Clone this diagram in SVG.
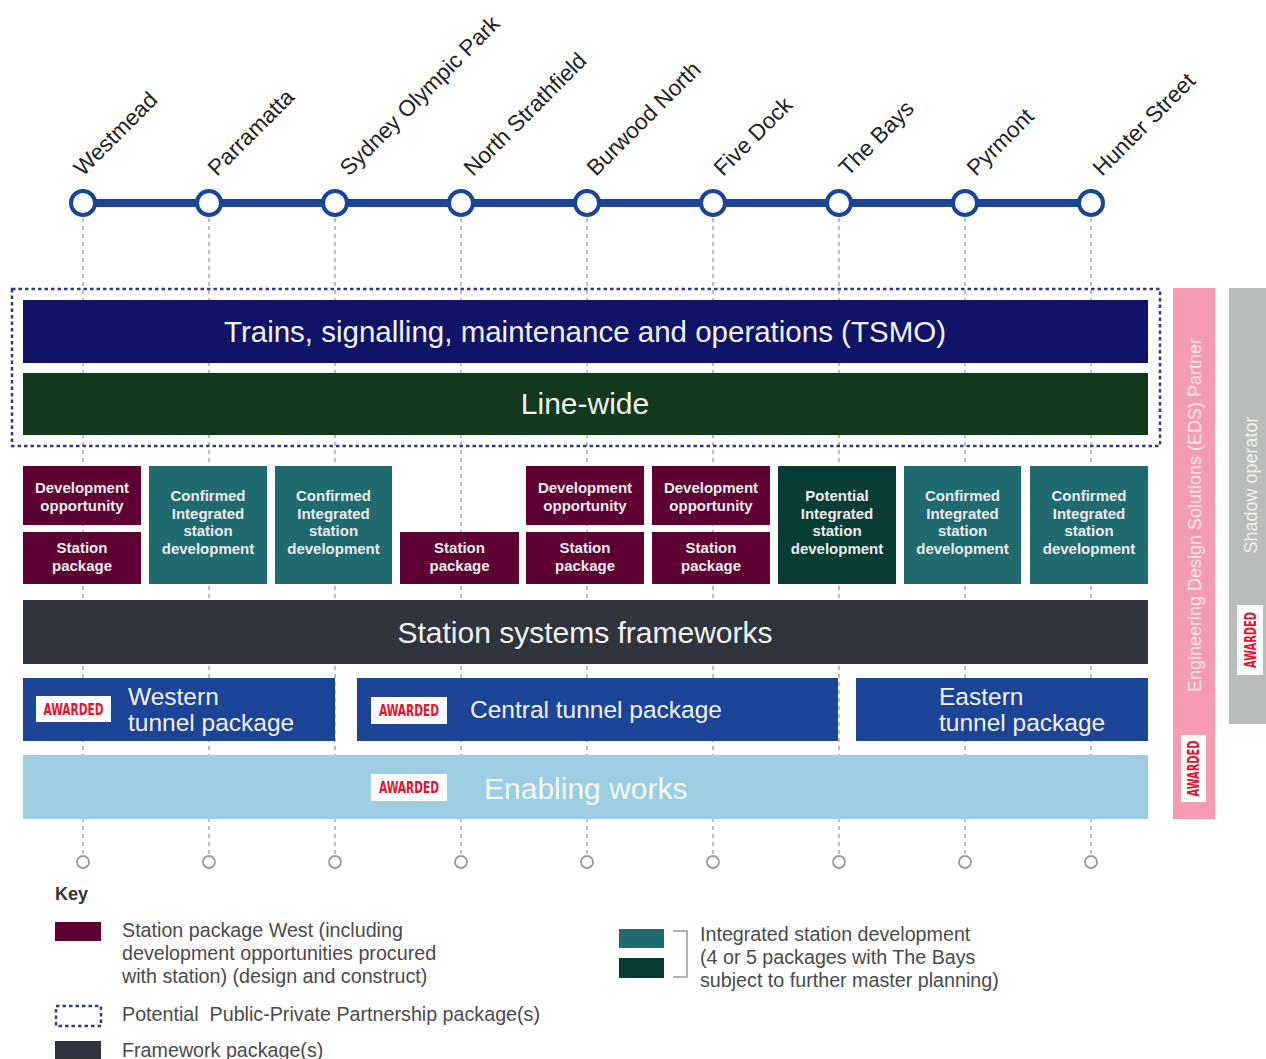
<svg xmlns="http://www.w3.org/2000/svg" width="1266" height="1059" viewBox="0 0 1266 1059">
<defs>
<style>
.stn{font-family:"Liberation Sans",Arial,sans-serif;font-size:22.5px;fill:#222}
.bar{font-family:"Liberation Sans",Arial,sans-serif;fill:#f2f2f2;text-anchor:middle}
.blk{font-family:"Liberation Sans",Arial,sans-serif;font-size:15px;font-weight:bold;fill:#ececec;text-anchor:middle}
.tun{font-family:"Liberation Sans",Arial,sans-serif;font-size:24.5px;fill:#f2f2f2}
.key{font-family:"Liberation Sans",Arial,sans-serif;font-size:19.7px;fill:#4a4a4a}
.awd{font-family:"DejaVu Sans Condensed","Liberation Sans Narrow","DejaVu Sans",sans-serif;font-weight:bold;font-size:15px;fill:#e8112d;text-anchor:middle}
.side{font-family:"Liberation Sans",Arial,sans-serif;font-size:18px;text-anchor:middle}
.maroon{fill:#5e0032}
.teal{fill:#1f6b70}
.dteal{fill:#083c34}
.guide{stroke:#a8a8a8;stroke-width:1.5;stroke-dasharray:4 4;fill:none}
.end{fill:#fff;stroke:#9a9a9a;stroke-width:1.8}
.stop{fill:#fff;stroke:#1a4597;stroke-width:4}
.badge{fill:#fff}
</style>
</defs>

<!-- connectors: route line and station guides -->
<g id="connectors">
  <g class="guide">
    <line x1="83" y1="218" x2="83" y2="855"/>
    <line x1="209" y1="218" x2="209" y2="855"/>
    <line x1="335" y1="218" x2="335" y2="855"/>
    <line x1="461" y1="218" x2="461" y2="855"/>
    <line x1="587" y1="218" x2="587" y2="855"/>
    <line x1="713" y1="218" x2="713" y2="855"/>
    <line x1="839" y1="218" x2="839" y2="855"/>
    <line x1="965" y1="218" x2="965" y2="855"/>
    <line x1="1091" y1="218" x2="1091" y2="855"/>
  </g>
  <line x1="83" y1="203" x2="1091" y2="203" stroke="#1a4597" stroke-width="8"/>
  <g>
    <circle class="end" cx="83" cy="862" r="6"/>
    <circle class="end" cx="209" cy="862" r="6"/>
    <circle class="end" cx="335" cy="862" r="6"/>
    <circle class="end" cx="461" cy="862" r="6"/>
    <circle class="end" cx="587" cy="862" r="6"/>
    <circle class="end" cx="713" cy="862" r="6"/>
    <circle class="end" cx="839" cy="862" r="6"/>
    <circle class="end" cx="965" cy="862" r="6"/>
    <circle class="end" cx="1091" cy="862" r="6"/>
  </g>
</g>

<!-- stations -->
<g id="st-westmead"><circle class="stop" cx="83" cy="203" r="12"/><text class="stn" transform="translate(83,177) rotate(-45)">Westmead</text></g>
<g id="st-parramatta"><circle class="stop" cx="209" cy="203" r="12"/><text class="stn" transform="translate(217,177) rotate(-45)">Parramatta</text></g>
<g id="st-sop"><circle class="stop" cx="335" cy="203" r="12"/><text class="stn" transform="translate(349,177) rotate(-45)">Sydney Olympic Park</text></g>
<g id="st-northstrathfield"><circle class="stop" cx="461" cy="203" r="12"/><text class="stn" transform="translate(473,177) rotate(-45)">North Strathfield</text></g>
<g id="st-burwoodnorth"><circle class="stop" cx="587" cy="203" r="12"/><text class="stn" transform="translate(596,177) rotate(-45)">Burwood North</text></g>
<g id="st-fivedock"><circle class="stop" cx="713" cy="203" r="12"/><text class="stn" transform="translate(723,177) rotate(-45)">Five Dock</text></g>
<g id="st-thebays"><circle class="stop" cx="839" cy="203" r="12"/><text class="stn" transform="translate(848,177) rotate(-45)">The Bays</text></g>
<g id="st-pyrmont"><circle class="stop" cx="965" cy="203" r="12"/><text class="stn" transform="translate(976,177) rotate(-45)">Pyrmont</text></g>
<g id="st-hunterstreet"><circle class="stop" cx="1091" cy="203" r="12"/><text class="stn" transform="translate(1102,177) rotate(-45)">Hunter Street</text></g>

<!-- PPP dotted outline -->
<g id="ppp"><rect x="12" y="289" width="1148" height="157" fill="none" stroke="#2f3a8f" stroke-width="2.5" stroke-dasharray="3.5 3"/></g>

<g id="tsmo"><rect x="23" y="300" width="1125" height="63" fill="#0f1466"/><text class="bar" x="585" y="342" font-size="29.5">Trains, signalling, maintenance and operations (TSMO)</text></g>
<g id="linewide"><rect x="23" y="373" width="1125" height="62" fill="#12391b"/><text class="bar" x="585" y="414" font-size="30">Line-wide</text></g>

<!-- station blocks -->
<g id="westmead-dev"><rect class="maroon" x="23" y="466" width="118" height="59"/><text class="blk" x="82" y="493">Development</text><text class="blk" x="82" y="511">opportunity</text></g>
<g id="westmead-stn"><rect class="maroon" x="23" y="532" width="118" height="52"/><text class="blk" x="82" y="553">Station</text><text class="blk" x="82" y="571">package</text></g>
<g id="parramatta-isd"><rect class="teal" x="149" y="466" width="118" height="118"/><text class="blk" x="208" y="501">Confirmed</text><text class="blk" x="208" y="519">Integrated</text><text class="blk" x="208" y="536">station</text><text class="blk" x="208" y="554">development</text></g>
<g id="sop-isd"><rect class="teal" x="275" y="466" width="117" height="118"/><text class="blk" x="333.5" y="501">Confirmed</text><text class="blk" x="333.5" y="519">Integrated</text><text class="blk" x="333.5" y="536">station</text><text class="blk" x="333.5" y="554">development</text></g>
<g id="northstrathfield-stn"><rect class="maroon" x="400" y="532" width="119" height="52"/><text class="blk" x="459.5" y="553">Station</text><text class="blk" x="459.5" y="571">package</text></g>
<g id="burwood-dev"><rect class="maroon" x="526" y="466" width="118" height="59"/><text class="blk" x="585" y="493">Development</text><text class="blk" x="585" y="511">opportunity</text></g>
<g id="burwood-stn"><rect class="maroon" x="526" y="532" width="118" height="52"/><text class="blk" x="585" y="553">Station</text><text class="blk" x="585" y="571">package</text></g>
<g id="fivedock-dev"><rect class="maroon" x="652" y="466" width="118" height="59"/><text class="blk" x="711" y="493">Development</text><text class="blk" x="711" y="511">opportunity</text></g>
<g id="fivedock-stn"><rect class="maroon" x="652" y="532" width="118" height="52"/><text class="blk" x="711" y="553">Station</text><text class="blk" x="711" y="571">package</text></g>
<g id="thebays-isd"><rect class="dteal" x="778" y="466" width="118" height="118"/><text class="blk" x="837" y="501">Potential</text><text class="blk" x="837" y="519">Integrated</text><text class="blk" x="837" y="536">station</text><text class="blk" x="837" y="554">development</text></g>
<g id="pyrmont-isd"><rect class="teal" x="904" y="466" width="117" height="118"/><text class="blk" x="962.5" y="501">Confirmed</text><text class="blk" x="962.5" y="519">Integrated</text><text class="blk" x="962.5" y="536">station</text><text class="blk" x="962.5" y="554">development</text></g>
<g id="hunter-isd"><rect class="teal" x="1030" y="466" width="118" height="118"/><text class="blk" x="1089" y="501">Confirmed</text><text class="blk" x="1089" y="519">Integrated</text><text class="blk" x="1089" y="536">station</text><text class="blk" x="1089" y="554">development</text></g>

<g id="ssf"><rect x="23" y="600" width="1125" height="64" fill="#2f343d"/><text class="bar" x="585" y="643" font-size="30">Station systems frameworks</text></g>

<g id="western"><rect x="23" y="678" width="312" height="63" fill="#1c4497"/><rect class="badge" x="36" y="696" width="75" height="26"/><text class="awd" x="73.5" y="715" textLength="60" lengthAdjust="spacingAndGlyphs">AWARDED</text><text class="tun" x="128" y="705">Western</text><text class="tun" x="128" y="731">tunnel package</text></g>
<g id="central"><rect x="357" y="678" width="481" height="63" fill="#1c4497"/><rect class="badge" x="371" y="697" width="76" height="27"/><text class="awd" x="409" y="716" textLength="60" lengthAdjust="spacingAndGlyphs">AWARDED</text><text class="tun" x="470" y="718" font-size="25">Central tunnel package</text></g>
<g id="eastern"><rect x="856" y="678" width="292" height="63" fill="#1c4497"/><text class="tun" x="939" y="705">Eastern</text><text class="tun" x="939" y="731">tunnel package</text></g>
<g id="enabling"><rect x="23" y="755" width="1125" height="64" fill="#9ccde3"/><rect class="badge" x="371" y="774" width="76" height="27"/><text class="awd" x="409" y="793" textLength="60" lengthAdjust="spacingAndGlyphs">AWARDED</text><text x="484" y="799" font-family="Liberation Sans, Arial, sans-serif" font-size="30" fill="#f4f9fb">Enabling works</text></g>

<g id="eds"><rect x="1173" y="288" width="42" height="531" fill="#f59bb4"/><text class="side" fill="#fde6ee" font-size="18.5" transform="translate(1201,515) rotate(-90)">Engineering Design Solutions (EDS) Partner</text><rect class="badge" x="1181" y="735" width="25" height="67"/><text class="awd" transform="translate(1199,768.5) rotate(-90)" textLength="56" lengthAdjust="spacingAndGlyphs">AWARDED</text></g>
<g id="shadow"><rect x="1229" y="288" width="40" height="436" fill="#b9bdb9"/><text class="side" fill="#eef0ee" transform="translate(1257,485) rotate(-90)">Shadow operator</text><rect class="badge" x="1237" y="605" width="26" height="70"/><text class="awd" transform="translate(1255.5,640) rotate(-90)" textLength="56" lengthAdjust="spacingAndGlyphs">AWARDED</text></g>

<!-- key -->
<g id="key">
  <text x="55" y="900" font-family="Liberation Sans, Arial, sans-serif" font-size="18" font-weight="bold" fill="#333">Key</text>
  <rect class="maroon" x="55" y="922" width="46" height="19"/>
  <text class="key" x="122" y="937">Station package West (including</text>
  <text class="key" x="122" y="960">development opportunities procured</text>
  <text class="key" x="122" y="983">with station) (design and construct)</text>
  <rect x="56" y="1006" width="45" height="20" fill="none" stroke="#2f3a8f" stroke-width="2.5" stroke-dasharray="3.5 3"/>
  <text class="key" x="122" y="1021" xml:space="preserve">Potential  Public-Private Partnership package(s)</text>
  <rect x="55" y="1041" width="46" height="19" fill="#2f343d"/>
  <text class="key" x="122" y="1057">Framework package(s)</text>
  <rect class="teal" x="619" y="929" width="45" height="19"/>
  <rect class="dteal" x="619" y="958" width="45" height="20"/>
  <path d="M673 931 H687 V977 H673" fill="none" stroke="#999" stroke-width="1.5"/>
  <text class="key" x="700" y="941">Integrated station development</text>
  <text class="key" x="700" y="964">(4 or 5 packages with The Bays</text>
  <text class="key" x="700" y="987">subject to further master planning)</text>
</g>
</svg>
